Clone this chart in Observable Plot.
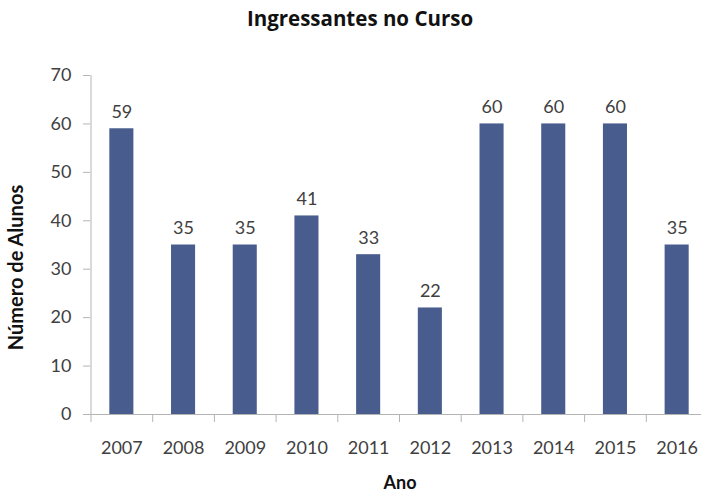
<!DOCTYPE html>
<html>
<head>
<meta charset="utf-8">
<script src="https://cdn.jsdelivr.net/npm/d3@7"></script>
<script src="https://cdn.jsdelivr.net/npm/@observablehq/plot@0.6"></script>
<style>
  html, body { margin: 0; padding: 0; background: #fff; }
  #chart { width: 701px; height: 493px; }
</style>
</head>
<body>
<div id="chart"></div>
<script>
const title = "Ingressantes no Curso";
const yLabel = "Número de Alunos";
const xLabel = "Ano";
const years = [2007, 2008, 2009, 2010, 2011, 2012, 2013, 2014, 2015, 2016];
const alunos = [59, 35, 35, 41, 33, 22, 60, 60, 60, 35];
const yTicks = [0, 10, 20, 30, 40, 50, 60, 70];

const data = years.map((year, i) => ({year, alunos: alunos[i]}));
const boundaries = [years[0] - 0.5, ...years.map(y => y + 0.5)];
const halfBar = 0.195;
const axisColor = "#b4b4b4";
const textColor = "#404040";
const barColor = "#485c8e";

const chart = Plot.plot({
  width: 701,
  height: 493,
  marginLeft: 90,
  marginRight: 0,
  marginTop: 60,
  marginBottom: 79,
  style: {fontFamily: "Lato, 'Open Sans', sans-serif", fontSize: "18px", background: "#fff"},
  x: {type: "linear", domain: [boundaries[0], boundaries[boundaries.length - 1]], range: [90.5, 707.5]},
  y: {domain: [0, 70], range: [414, 75]},
  marks: [
    Plot.rectY(data, {x1: d => d.year - halfBar, x2: d => d.year + halfBar, y1: 0, y2: "alunos", fill: barColor}),
    Plot.ruleX([boundaries[0]], {y1: 0, y2: 70, stroke: axisColor}),
    Plot.ruleY([0], {stroke: axisColor}),
    Plot.axisY({ticks: yTicks, tickSize: 7, tickPadding: 12, stroke: axisColor, fill: textColor, fontSize: 18, label: null}),
    Plot.axisX({ticks: boundaries, tickSize: 8, tickFormat: () => "", stroke: axisColor, label: null}),
    Plot.axisX({ticks: years, tickSize: 0, tickPadding: 27, tickFormat: d => String(d), fill: textColor, fontSize: 18, label: null}),
    Plot.text(data, {x: "year", y: "alunos", text: d => String(d.alunos), lineAnchor: "bottom", dy: -11, fill: textColor, fontSize: 18})
  ]
});

const svg = d3.select(chart);
svg.append("text")
  .attr("x", 360).attr("y", 26)
  .attr("text-anchor", "middle")
  .attr("font-family", "'Open Sans', Lato, sans-serif")
  .attr("font-weight", 700)
  .attr("font-size", 20.5)
  .attr("fill", "#111")
  .text(title);
svg.append("text")
  .attr("transform", "translate(23,267.5) rotate(-90)")
  .attr("text-anchor", "middle")
  .attr("font-family", "Lato, sans-serif")
  .attr("font-weight", 700)
  .attr("font-size", 20)
  .attr("fill", "#111")
  .text(yLabel);
svg.append("text")
  .attr("x", 400).attr("y", 489)
  .attr("text-anchor", "middle")
  .attr("font-family", "Lato, sans-serif")
  .attr("font-weight", 700)
  .attr("font-size", 18)
  .attr("fill", "#111")
  .text(xLabel);

document.getElementById("chart").appendChild(chart);
</script>
</body>
</html>
